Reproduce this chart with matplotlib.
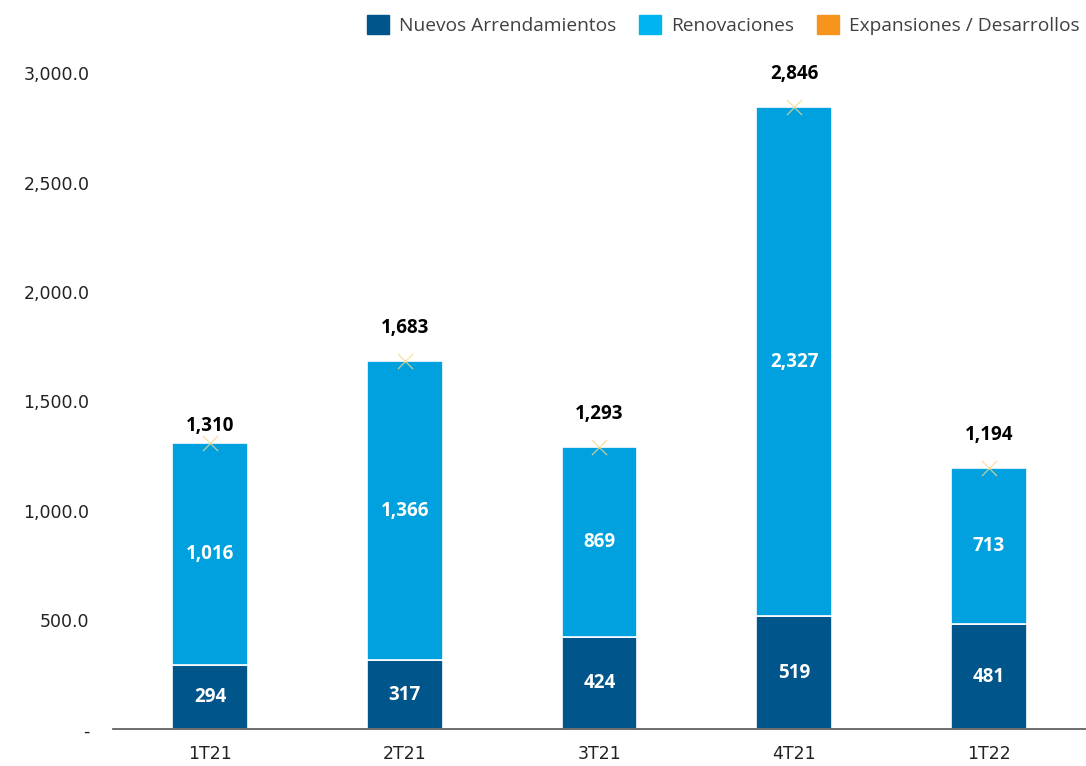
import numpy as np
import matplotlib
matplotlib.use("Agg")
import matplotlib.pyplot as plt
from matplotlib.ticker import FuncFormatter

# data
quarters = ["1T21", "2T21", "3T21", "4T21", "1T22"]
nuevos = [294, 317, 424, 519, 481]
renovaciones = [1016, 1366, 869, 2327, 713]
expansiones = [0, 0, 0, 0, 0]
totales = [1310, 1683, 1293, 2846, 1194]

c_dark = "#00558A"
c_light = "#00A1DE"
c_light_leg = "#00B4EF"
c_orange = "#F7941D"

plt.rcParams['font.family'] = ['DejaVu Sans']

fig = plt.figure(figsize=(10.86, 7.66), dpi=100)
ax = fig.add_axes([0.104, 0.0477, 0.896, 0.885])

x = np.arange(len(quarters))
w = 0.39
ax.bar(x, nuevos, w, color=c_dark, edgecolor="white", linewidth=1.2)
ax.bar(x, renovaciones, w, bottom=nuevos, color=c_light, edgecolor="white", linewidth=1.2)
bottoms = np.array(nuevos) + np.array(renovaciones)
ax.bar(x, expansiones, w, bottom=bottoms, color=c_orange, linewidth=0)
ax.scatter(x, totales, marker="x", s=120, color="#F3D98A", linewidths=0.9, alpha=0.8, zorder=3)

lbl = dict(family="Open Sans", fontweight="bold", fontsize=13.5)
for i in range(len(x)):
    ax.text(x[i], nuevos[i] / 2, f"{nuevos[i]:,}", ha="center", va="center", color="white", **lbl)
    ax.text(x[i], nuevos[i] + renovaciones[i] / 2, f"{renovaciones[i]:,}", ha="center", va="center",
            color="white", **lbl)
    dy = 17 if i == 0 else 33  # pixels above the bar top, as in the original
    ax.annotate(f"{totales[i]:,}", (x[i], totales[i]), xytext=(0, dy * 0.72),
                textcoords="offset points", ha="center", va="center", color="black", **lbl)

ax.set_xlim(-0.5, 4.5)
ax.set_ylim(0, 3100)
ax.set_yticks([0, 500, 1000, 1500, 2000, 2500, 3000])
ax.yaxis.set_major_formatter(FuncFormatter(lambda v, p: "-" if v == 0 else f"{v:,.1f}"))
ax.set_xticks(x)
ax.set_xticklabels(quarters)
ax.tick_params(axis="both", length=0, labelsize=12.5, colors="#222222")
ax.tick_params(axis="y", pad=17)
ax.tick_params(axis="x", pad=11)
for s in ["top", "right", "left"]:
    ax.spines[s].set_visible(False)
ax.spines["bottom"].set_color("#555555")
ax.spines["bottom"].set_linewidth(1.2)

handles = [plt.Rectangle((0, 0), 1, 1, color=c) for c in [c_dark, c_light_leg, c_orange]]
fig.legend(handles, ["Nuevos Arrendamientos", "Renovaciones", "Expansiones / Desarrollos"],
           loc="upper right", bbox_to_anchor=(0.999, 0.988), ncol=3, frameon=False,
           borderaxespad=0, borderpad=0.3,
           handlelength=1.15, handleheight=1.15, handletextpad=0.5, columnspacing=1.2,
           prop=dict(family="Open Sans", size=13.8), labelcolor="#404040")

fig.savefig("out.png", dpi=100)
